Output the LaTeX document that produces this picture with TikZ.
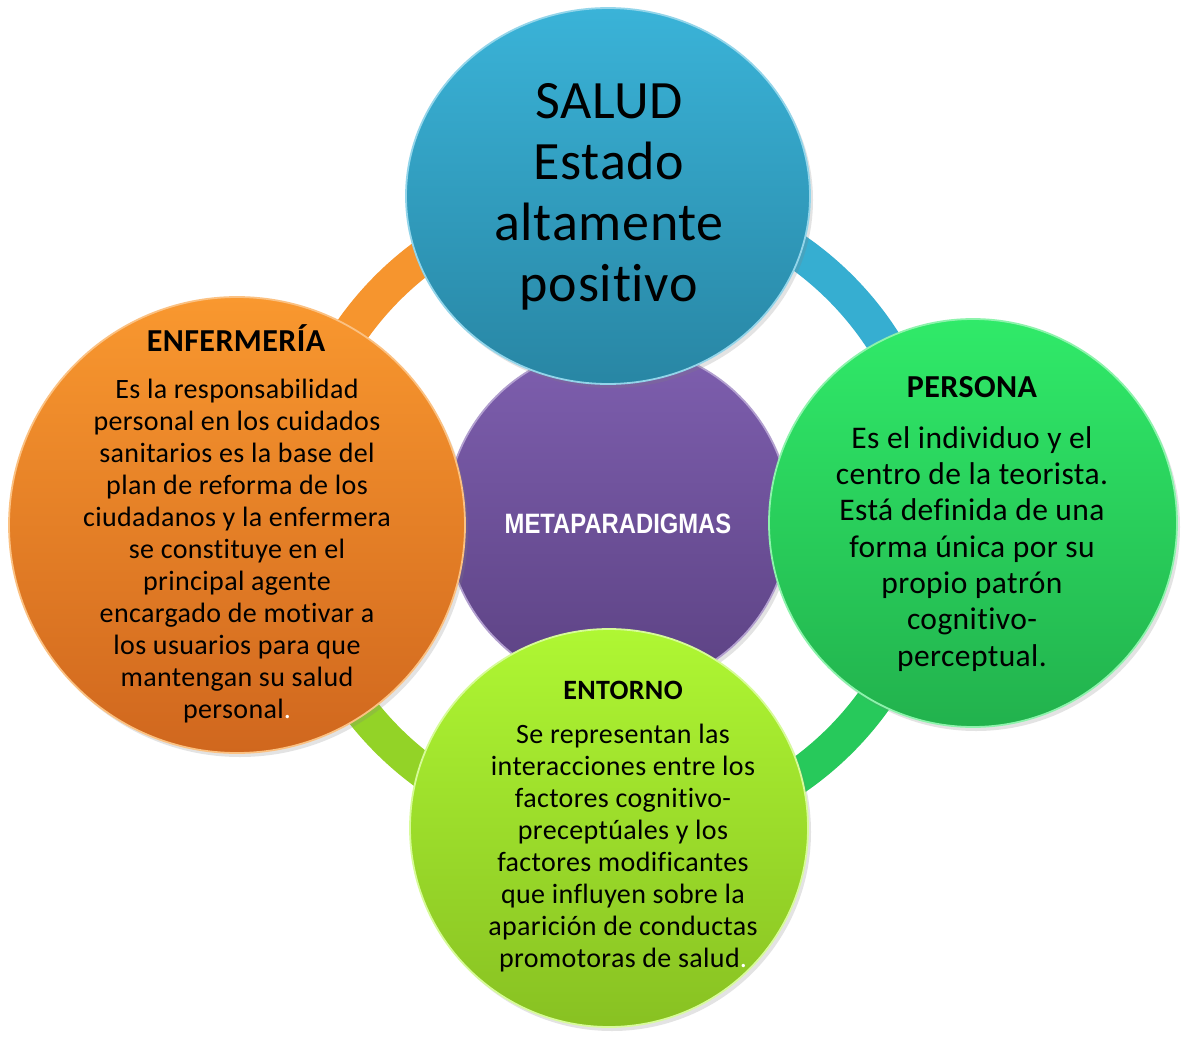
\documentclass[tikz,border=0pt]{standalone}
\usepackage{fontspec}
\usepackage{graphicx}
\setmainfont{Carlito}[RawFeature={-liga;-clig;-calt}, LetterSpace=1.3]
\newfontfamily\metafont{Liberation Sans}
\usetikzlibrary{shapes.geometric,shadows}
\definecolor{blueTop}{HTML}{3AB3D8}
\definecolor{blueBot}{HTML}{2886A4}
\definecolor{orangeTop}{HTML}{F9982F}
\definecolor{orangeBot}{HTML}{D0671E}
\definecolor{greenTop}{HTML}{30EA69}
\definecolor{greenBot}{HTML}{22B24D}
\definecolor{limeTop}{HTML}{AFF733}
\definecolor{limeBot}{HTML}{88C122}
\definecolor{purpleTop}{HTML}{7E5FAF}
\definecolor{purpleBot}{HTML}{5C4283}
\definecolor{ringOrange}{HTML}{F6952E}
\definecolor{ringBlue}{HTML}{36AED1}
\definecolor{ringGreen}{HTML}{27C95B}
\definecolor{ringLime}{HTML}{93D327}
\begin{document}
\begin{tikzpicture}[x=1pt,y=-1pt,
  ringarc/.style={line width=35pt},
  bubble/.style={circle, inner sep=0pt, line width=1.8pt,
    drop shadow={opacity=0.22, shadow xshift=3pt, shadow yshift=-4pt}},
  headtxt/.style={inner sep=0pt, anchor=base, font=\bfseries},
  bodytxt/.style={inner sep=0pt, anchor=north, align=center}
]
\useasboundingbox[fill=white] (0,0) rectangle (1200,1039);

% ring
\coordinate (rc) at (614,514);
\draw[ringarc, ringOrange] (rc) ++(180:320) arc[start angle=180, end angle=270, radius=320];
\draw[ringarc, ringBlue]   (rc) ++(270:320) arc[start angle=270, end angle=360, radius=320];
\draw[ringarc, ringGreen]  (rc) ++(0:320)   arc[start angle=0,   end angle=90,  radius=320];
\draw[ringarc, ringLime]   (rc) ++(90:320)  arc[start angle=90,  end angle=180, radius=320];

% circles
\node[bubble, minimum size=344pt, top color=purpleTop, bottom color=purpleBot, draw=purpleTop!60!white] (meta) at (618,518) {};
\node[bubble, minimum size=456pt, top color=orangeTop, bottom color=orangeBot, draw=orangeTop!60!white] (enf) at (237,525) {};
\node[bubble, ellipse, minimum width=404pt, minimum height=376pt, top color=blueTop, bottom color=blueBot, draw=blueTop!55!white] (salud) at (608,196) {};
\node[bubble, minimum size=408pt, top color=greenTop, bottom color=greenBot, draw=greenTop!55!white] (persona) at (973,523) {};
\node[bubble, minimum size=398pt, top color=limeTop, bottom color=limeBot, draw=limeTop!50!white] (entorno) at (609,828) {};

% texts
\node[bodytxt, font=\fontsize{54}{61}\selectfont] (saludtxt) at (609,73)
  {\rule{0pt}{45pt}SALUD\\Estado\\altamente\\positivo};

\node[inner sep=0pt, anchor=base, text=white] (metatxt) at (618,533)
  {\metafont\bfseries\fontsize{28}{30}\selectfont\scalebox{0.85}[1]{METAPARADIGMAS}};

\node[headtxt, font=\bfseries\fontsize{32}{36}\selectfont] (enfhead) at (236,351) {ENFERMERÍA};
\node[bodytxt, font=\fontsize{28}{32}\selectfont] (enftxt) at (237,374)
  {\rule{0pt}{24pt}Es la responsabilidad\\personal en los cuidados\\sanitarios es la base del\\plan de reforma de los\\ciudadanos y la enfermera\\se constituye en el\\principal agente\\encargado de motivar a\\los usuarios para que\\mantengan su salud\\personal{\color{white}.}};

\node[headtxt, font=\bfseries\fontsize{32}{36}\selectfont] (perhead) at (972,397) {PERSONA};
\node[bodytxt, font=\fontsize{31.5}{36.3}\selectfont] (pertxt) at (972,422)
  {\rule{0pt}{26pt}Es el individuo y el\\centro de la teorista.\\Está definida de una\\forma única por su\\propio patrón\\cognitivo-\\perceptual.};

\node[headtxt, font=\bfseries\fontsize{28}{32}\selectfont] (enthead) at (623,699) {ENTORNO};
\node[bodytxt, font=\fontsize{28}{32}\selectfont] (enttxt) at (623,719)
  {\rule{0pt}{24pt}Se representan las\\interacciones entre los\\factores cognitivo-\\preceptúales y los\\factores modificantes\\que influyen sobre la\\aparición de conductas\\promotoras de salud{\color{white}.}};
\end{tikzpicture}
\end{document}
